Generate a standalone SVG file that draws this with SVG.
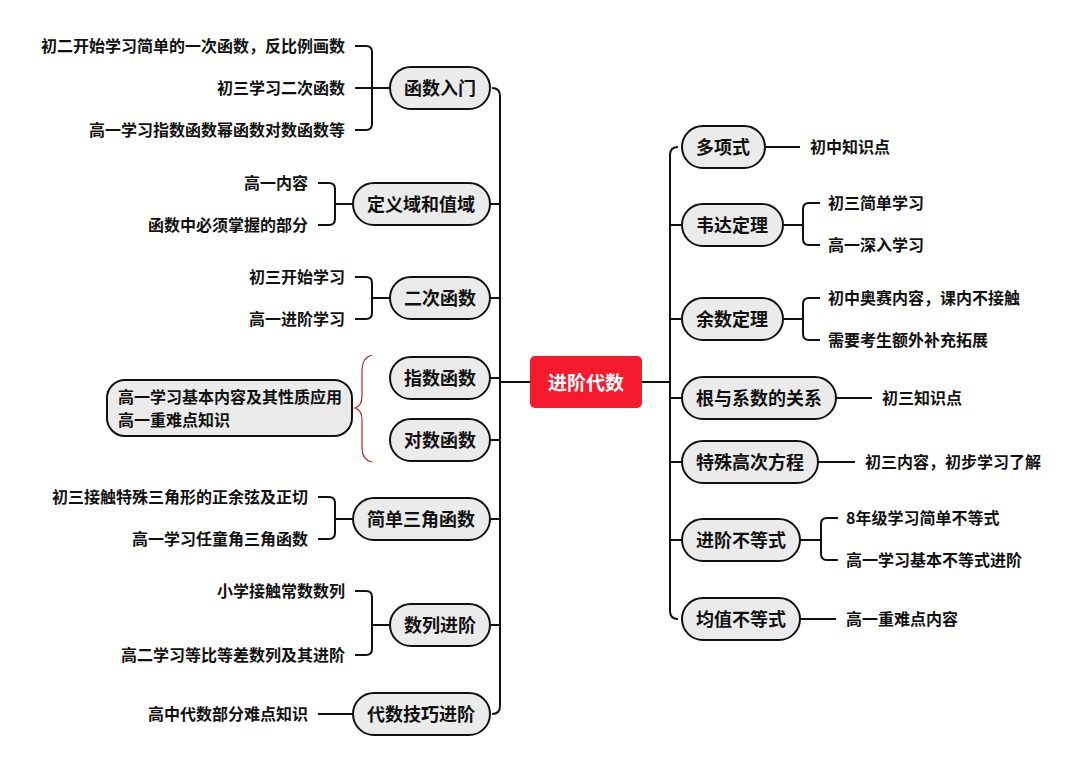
<svg xmlns="http://www.w3.org/2000/svg" width="1080" height="765" viewBox="0 0 1080 765">
<style>
text{font-family:"Noto Sans CJK SC","Noto Sans",sans-serif;font-weight:bold;fill:#111}
.n{font-size:18px;text-anchor:middle;dominant-baseline:central}
.l{font-size:16px;dominant-baseline:central}
.r{text-anchor:end}
.p{fill:#ebebeb;stroke:#111;stroke-width:2}
.c{fill:none;stroke:#111;stroke-width:2}
</style>
<rect width="1080" height="765" fill="#fff"/>
<g id="connectors" class="c">
<path d="M530 382H500M500 96V706M500 96Q500 88 492 88M500 706Q500 714 492 714M500 204H490M500 298H490M500 378H490M500 440H490M500 519H490M500 625H490"/>
<path d="M642 382H670M670 155V611M670 155Q670 147 678 147M670 611Q670 619 678 619M670 225H682M670 319H682M670 398H682M670 462H682M670 540H682"/>
<path d="M355 46H366Q372 46 372 52V124Q372 130 366 130H355M355 88H390"/>
<path d="M318 183H329Q335 183 335 189V219Q335 225 329 225H318M335 204H353"/>
<path d="M355 277H366Q372 277 372 283V313Q372 319 366 319H355M372 298H390"/>
<path d="M318 497H329Q335 497 335 503V533Q335 539 329 539H318M335 519H353"/>
<path d="M355 591H366Q372 591 372 597V649Q372 655 366 655H355M372 625H390"/>
<path d="M318 714H353"/>
<path d="M765 147H800"/>
<path d="M820 203H809Q803 203 803 209V239Q803 245 809 245H820M783 225H803"/>
<path d="M820 298H809Q803 298 803 304V334Q803 340 809 340H820M783 319H803"/>
<path d="M836 398H872M818 462H855"/>
<path d="M838 518H827Q821 518 821 524V554Q821 560 827 560H838M800 540H821"/>
<path d="M800 619H836"/>
<path d="M372 355Q362 358 362 370V396Q362 406 355 408Q362 410 362 420V448Q362 460 372 462" stroke="#b22" stroke-width="1.2"/>
</g>
<g id="center"><rect x="530" y="356" width="112" height="52" rx="5" fill="#f51a2e"/><text class="n" x="586" y="381" style="fill:#fff;font-size:19px">进阶代数</text></g>
<g id="n1"><rect class="p" x="390" y="67" width="100" height="42" rx="21"/><text class="n" x="440" y="87">函数入门</text></g>
<g id="n2"><rect class="p" x="353" y="183" width="137" height="42" rx="21"/><text class="n" x="421" y="203">定义域和值域</text></g>
<g id="n3"><rect class="p" x="390" y="277" width="100" height="42" rx="21"/><text class="n" x="440" y="297">二次函数</text></g>
<g id="n4"><rect class="p" x="390" y="357" width="100" height="42" rx="21"/><text class="n" x="440" y="377">指数函数</text></g>
<g id="n5"><rect class="p" x="390" y="419" width="100" height="42" rx="21"/><text class="n" x="440" y="439">对数函数</text></g>
<g id="n6"><rect class="p" x="353" y="498" width="137" height="42" rx="21"/><text class="n" x="421" y="518">简单三角函数</text></g>
<g id="n7"><rect class="p" x="390" y="604" width="100" height="42" rx="21"/><text class="n" x="440" y="624">数列进阶</text></g>
<g id="n8"><rect class="p" x="353" y="693" width="137" height="42" rx="21"/><text class="n" x="421" y="713">代数技巧进阶</text></g>
<g id="callout"><rect class="p" x="107" y="380" width="245" height="56" rx="18"/><text class="l" x="118" y="396">高一学习基本内容及其性质应用</text><text class="l" x="118" y="419">高一重难点知识</text></g>
<g id="leftleaves">
<text class="l r" x="345" y="45">初二开始学习简单的一次函数，反比例画数</text>
<text class="l r" x="345" y="87">初三学习二次函数</text>
<text class="l r" x="345" y="129">高一学习指数函数幂函数对数函数等</text>
<text class="l r" x="308" y="182">高一内容</text>
<text class="l r" x="308" y="224">函数中必须掌握的部分</text>
<text class="l r" x="345" y="276">初三开始学习</text>
<text class="l r" x="345" y="318">高一进阶学习</text>
<text class="l r" x="308" y="496">初三接触特殊三角形的正余弦及正切</text>
<text class="l r" x="308" y="538">高一学习任童角三角函数</text>
<text class="l r" x="345" y="590">小学接触常数数列</text>
<text class="l r" x="345" y="654">高二学习等比等差数列及其进阶</text>
<text class="l r" x="308" y="713">高中代数部分难点知识</text>
</g>
<g id="r1"><rect class="p" x="682" y="126" width="83" height="42" rx="21"/><text class="n" x="723" y="146">多项式</text></g>
<g id="r2"><rect class="p" x="682" y="204" width="101" height="42" rx="21"/><text class="n" x="732" y="224">韦达定理</text></g>
<g id="r3"><rect class="p" x="682" y="298" width="101" height="42" rx="21"/><text class="n" x="732" y="318">余数定理</text></g>
<g id="r4"><rect class="p" x="682" y="377" width="154" height="42" rx="21"/><text class="n" x="759" y="397">根与系数的关系</text></g>
<g id="r5"><rect class="p" x="682" y="441" width="136" height="42" rx="21"/><text class="n" x="750" y="461">特殊高次方程</text></g>
<g id="r6"><rect class="p" x="682" y="519" width="118" height="42" rx="21"/><text class="n" x="741" y="539">进阶不等式</text></g>
<g id="r7"><rect class="p" x="682" y="598" width="118" height="42" rx="21"/><text class="n" x="741" y="618">均值不等式</text></g>
<g id="rightleaves">
<text class="l" x="810" y="146">初中知识点</text>
<text class="l" x="828" y="202">初三简单学习</text>
<text class="l" x="828" y="244">高一深入学习</text>
<text class="l" x="828" y="297">初中奥赛内容，课内不接触</text>
<text class="l" x="828" y="339">需要考生额外补充拓展</text>
<text class="l" x="882" y="397">初三知识点</text>
<text class="l" x="865" y="461">初三内容，初步学习了解</text>
<text class="l" x="846" y="517">8年级学习简单不等式</text>
<text class="l" x="846" y="559">高一学习基本不等式进阶</text>
<text class="l" x="846" y="618">高一重难点内容</text>
</g>
</svg>
